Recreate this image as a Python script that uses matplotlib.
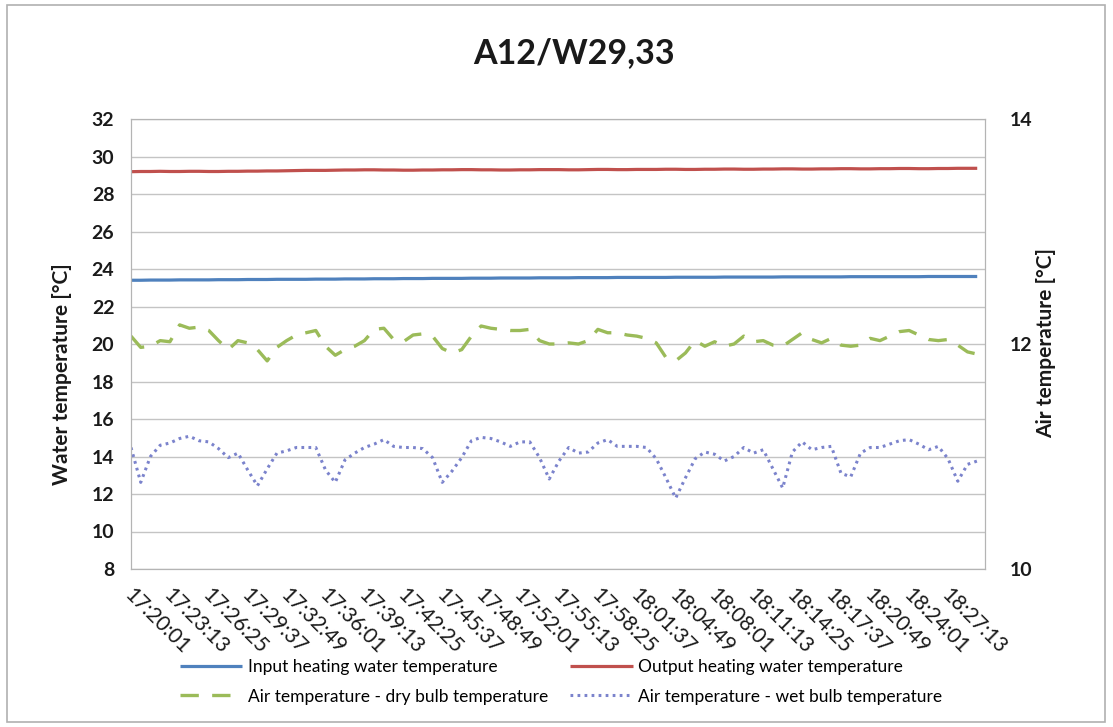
import numpy as np
import pandas as pd
import matplotlib
matplotlib.use("Agg")
from matplotlib import pyplot as plt
from matplotlib.patches import Rectangle
import matplotlib.transforms as mtransforms

plt.rcParams['font.family'] = ['Lato', 'DejaVu Sans']

# samples every 48 s from 17:20:01
times = pd.date_range("2000-01-01 17:20:01", periods=88, freq="48s")

# water temperatures [°C] (left axis)
water_in = [23.40, 23.40, 23.41, 23.41, 23.41, 23.42, 23.42, 23.42, 23.42, 23.43,
            23.43, 23.43, 23.44, 23.44, 23.44, 23.45, 23.45, 23.45, 23.45, 23.46,
            23.46, 23.46, 23.47, 23.47, 23.47, 23.48, 23.48, 23.48, 23.49, 23.49,
            23.49, 23.50, 23.50, 23.50, 23.50, 23.51, 23.51, 23.51, 23.52, 23.52,
            23.52, 23.52, 23.53, 23.53, 23.53, 23.53, 23.54, 23.54, 23.54, 23.54,
            23.55, 23.55, 23.55, 23.55, 23.55, 23.55, 23.56, 23.56, 23.56, 23.56,
            23.56, 23.57, 23.57, 23.57, 23.57, 23.57, 23.57, 23.58, 23.58, 23.58,
            23.58, 23.58, 23.58, 23.58, 23.59, 23.59, 23.59, 23.59, 23.59, 23.59,
            23.59, 23.59, 23.60, 23.60, 23.60, 23.60, 23.60, 23.60]

water_out = [29.19, 29.20, 29.20, 29.21, 29.20, 29.20, 29.21, 29.21, 29.20, 29.20,
             29.21, 29.21, 29.22, 29.22, 29.23, 29.23, 29.24, 29.25, 29.26, 29.26,
             29.26, 29.27, 29.28, 29.28, 29.29, 29.29, 29.28, 29.28, 29.27, 29.27,
             29.28, 29.28, 29.29, 29.29, 29.30, 29.30, 29.29, 29.29, 29.28, 29.28,
             29.29, 29.29, 29.30, 29.30, 29.30, 29.29, 29.29, 29.30, 29.31, 29.31,
             29.30, 29.30, 29.31, 29.31, 29.31, 29.32, 29.32, 29.31, 29.31, 29.32,
             29.32, 29.33, 29.33, 29.32, 29.32, 29.33, 29.33, 29.34, 29.34, 29.33,
             29.33, 29.34, 29.34, 29.35, 29.35, 29.34, 29.34, 29.35, 29.35, 29.36,
             29.36, 29.35, 29.35, 29.36, 29.36, 29.37, 29.37, 29.37]

# air temperatures [°C] (right axis)
air_dry = [12.07, 11.97, 11.98, 12.03, 12.02, 12.17, 12.14, 12.15, 12.12, 12.03,
           11.95, 12.03, 12.01, 11.95, 11.85, 11.97, 12.03, 12.08, 12.10, 12.12,
           11.98, 11.90, 11.95, 11.98, 12.03, 12.13, 12.14, 12.04, 12.02, 12.08,
           12.09, 12.07, 11.96, 11.92, 11.95, 12.07, 12.16, 12.14, 12.13, 12.12,
           12.12, 12.13, 12.03, 12.00, 12.00, 12.01, 12.00, 12.03, 12.13, 12.10,
           12.10, 12.08, 12.07, 12.05, 12.01, 11.88, 11.85, 11.92, 12.03, 11.98,
           12.02, 11.98, 12.00, 12.07, 12.02, 12.03, 11.99, 11.98, 12.04, 12.10,
           12.04, 12.01, 12.05, 11.99, 11.98, 11.99, 12.05, 12.03, 12.07, 12.11,
           12.12, 12.08, 12.04, 12.03, 12.04, 11.99, 11.93, 11.91]

air_wet = [11.08, 10.77, 11.00, 11.10, 11.12, 11.16, 11.18, 11.14, 11.13, 11.07,
           10.99, 11.03, 10.88, 10.74, 10.89, 11.03, 11.05, 11.08, 11.08, 11.08,
           10.88, 10.77, 10.97, 11.03, 11.08, 11.11, 11.15, 11.09, 11.08, 11.08,
           11.07, 10.99, 10.77, 10.87, 10.99, 11.14, 11.17, 11.16, 11.13, 11.09,
           11.13, 11.13, 10.99, 10.80, 10.96, 11.08, 11.03, 11.04, 11.12, 11.15,
           11.09, 11.09, 11.09, 11.08, 10.98, 10.81, 10.63, 10.81, 10.98, 11.04,
           11.02, 10.96, 11.00, 11.08, 11.03, 11.06, 10.89, 10.72, 11.04, 11.13,
           11.06, 11.08, 11.09, 10.85, 10.82, 11.03, 11.08, 11.08, 11.11, 11.14,
           11.15, 11.11, 11.06, 11.09, 10.98, 10.78, 10.93, 10.96]

labels = ["Input heating water temperature",
          "Output heating water temperature",
          "Air temperature - dry bulb temperature",
          "Air temperature - wet bulb temperature"]

W, H = 1113, 727
fig = plt.figure(figsize=(W / 100, H / 100), dpi=100)
fig.patches.append(Rectangle((7 / W, 5 / H), 1098 / W, 717 / H, transform=fig.transFigure,
                             fill=False, edgecolor="#b0b0b0", linewidth=1.2))

ax = fig.add_axes([131 / W, 1 - 569 / H, 854 / W, 450 / H])
ax2 = ax.twinx()

x = np.arange(len(times))
l1, = ax.plot(x, water_in, color="#4f81bd", lw=2.3, solid_capstyle="butt")
l2, = ax.plot(x, water_out, color="#c0504d", lw=2.3, solid_capstyle="butt")
l3, = ax2.plot(x, air_dry, color="#9bbb59", lw=2.4, dashes=(5.5, 4.0))
l4, = ax2.plot(x, air_wet, color="#7b83cc", lw=2.2, dashes=(0.9, 1.4))

ax.set_xlim(0, 87.8)
ax.set_ylim(8, 32)
ax.set_yticks(np.arange(8, 33, 2))
ax2.set_ylim(10, 14)
ax2.set_yticks([10, 12, 14])
ax.grid(axis="y", color="#c4c4c4", lw=1)
ax.set_axisbelow(True)

for a in (ax, ax2):
    for s in a.spines.values():
        s.set_color("#b4b4b4")
    a.tick_params(length=0, labelsize=14, labelcolor="#1a1a1a")
ax.tick_params(axis="y", pad=12)
ax2.tick_params(axis="y", pad=18)
for t in ax.get_yticklabels() + ax2.get_yticklabels():
    t.set_fontweight("bold")

# one label every 4 samples (3:12)
tick_pos = x[::4]
ax.set_xticks(tick_pos)
ax.set_xticklabels([t.strftime("%H:%M:%S") for t in times[::4]],
                   rotation=-45, ha="left", va="top", rotation_mode="anchor", fontsize=15)
ax.tick_params(axis="x", pad=11)
shift = mtransforms.ScaledTranslation(4 / 100, 0, fig.dpi_scale_trans)
for t in ax.get_xticklabels():
    t.set_transform(t.get_transform() + shift)

fig.text(62 / W, 1 - 374 / H, "Water temperature [°C]", rotation=90, ha="center", va="center",
         fontsize=15, fontweight="bold", color="#1a1a1a")
fig.text(1046 / W, 1 - 343 / H, "Air temperature [°C]", rotation=90, ha="center", va="center",
         fontsize=15, fontweight="bold", color="#1a1a1a")
fig.text(574 / W, 1 - 53 / H, "A12/W29,33", ha="center", va="center",
         fontsize=24.5, fontweight="bold", color="#1a1a1a")

fig.legend([l1, l3, l2, l4], [labels[0], labels[2], labels[1], labels[3]],
           ncol=2, loc="center", bbox_to_anchor=(561 / W, 1 - 682 / H),
           frameon=False, fontsize=12.5, handlelength=3.6, handletextpad=0.3,
           columnspacing=1.3, labelspacing=0.75)

fig.savefig("out.png", dpi=100)
